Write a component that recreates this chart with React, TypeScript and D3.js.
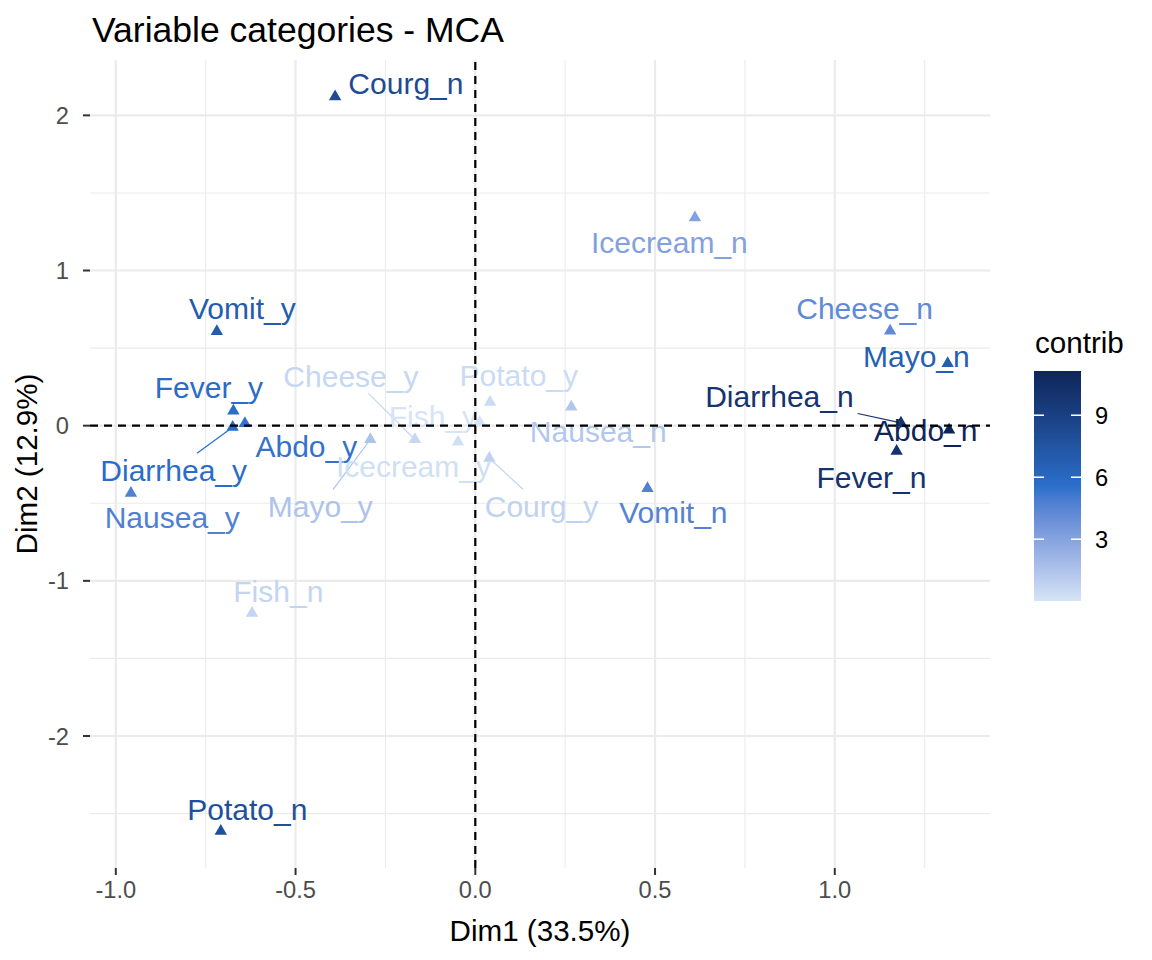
import React, { useMemo } from 'react';
import * as d3 from 'd3';

// MCA variable categories (Dim1 / Dim2 coordinates and contribution)
const categories = [
  'Nausea_n', 'Nausea_y', 'Vomit_n', 'Vomit_y', 'Abdo_n', 'Abdo_y',
  'Fever_n', 'Fever_y', 'Diarrhea_n', 'Diarrhea_y', 'Fish_n', 'Fish_y',
  'Mayo_n', 'Mayo_y', 'Potato_n', 'Potato_y', 'Cheese_n', 'Cheese_y',
  'Icecream_n', 'Icecream_y', 'Courg_n', 'Courg_y',
];
const dim1 = [
  0.267, -0.958, 0.479, -0.719, 1.318, -0.641,
  1.172, -0.673, 1.184, -0.675, -0.621, 0.012,
  1.314, -0.292, -0.708, 0.041, 1.154, -0.168,
  0.611, -0.048, -0.39, 0.039,
];
const dim2 = [
  0.121, -0.435, -0.405, 0.607, -0.028, 0.014,
  -0.165, 0.095, 0.018, -0.01, -1.209, 0.022,
  0.401, -0.089, -2.614, 0.151, 0.61, -0.089,
  1.34, -0.105, 2.12, -0.21,
];
const contrib = [
  1.32, 4.73, 4.63, 6.94, 11.14, 5.42,
  9.98, 5.76, 10.0, 5.68, 0.66, 0.01,
  6.72, 1.49, 7.88, 0.42, 4.22, 0.61,
  3.08, 0.24, 8.2, 0.82,
];
// repelled label positions (data units)
const labelDim1 = [
  0.342, -0.843, 0.551, -0.648, 1.253, -0.47,
  1.102, -0.741, 0.846, -0.839, -0.548, -0.118,
  1.227, -0.431, -0.634, 0.121, 1.083, -0.346,
  0.54, -0.172, -0.193, 0.184,
];
const labelDim2 = [
  -0.039, -0.593, -0.557, 0.757, -0.032, -0.135,
  -0.332, 0.248, 0.187, -0.287, -1.066, 0.058,
  0.445, -0.522, -2.471, 0.322, 0.754, 0.319,
  1.182, -0.264, 2.207, -0.519,
];

const xTicks = [-1.0, -0.5, 0.0, 0.5, 1.0];
const xTickLabels = ['-1.0', '-0.5', '0.0', '0.5', '1.0'];
const yTicks = [-2, -1, 0, 1, 2];
const yTickLabels = ['-2', '-1', '0', '1', '2'];
const legendTicks = [3, 6, 9];
const gradientColors = ['#d5e4f6', '#2b6fcb', '#0f2559'];

const W = 1152;
const H = 960;
const panel = { left: 90, right: 990, top: 60, bottom: 868 };
const FONT = "'Liberation Sans', Arial, Helvetica, sans-serif";
const base = 29.6;
const labelSize = 30;

function expand(ext: number[]) {
  const d = ext[1] - ext[0];
  return [ext[0] - 0.05 * d, ext[1] + 0.05 * d];
}

// R pch 17 filled triangle
function triangle(cx: number, cy: number, s: number) {
  const r = 1.5551 * s, yc = 0.7776 * s, hx = 1.3468 * s;
  return `M${cx},${cy - r}L${cx + hx},${cy + yc}L${cx - hx},${cy + yc}Z`;
}

export default function App() {
  const x = d3.scaleLinear().domain(expand(d3.extent(dim1) as number[])).range([panel.left, panel.right]);
  const y = d3.scaleLinear().domain(expand(d3.extent(dim2) as number[])).range([panel.bottom, panel.top]);

  const cExt = d3.extent(contrib) as number[];
  const color = d3.scaleLinear<string>()
    .domain([cExt[0], (cExt[0] + cExt[1]) / 2, cExt[1]])
    .range(gradientColors)
    .interpolate(d3.interpolateLab);

  const xMinor = xTicks.flatMap(t => [t - 0.25, t + 0.25])
    .filter((v, i, a) => a.indexOf(v) === i && !xTicks.includes(v))
    .filter(v => v > x.domain()[0] && v < x.domain()[1]);
  const yMinor = yTicks.flatMap(t => [t - 0.5, t + 0.5])
    .filter((v, i, a) => a.indexOf(v) === i && !yTicks.includes(v))
    .filter(v => v > y.domain()[0] && v < y.domain()[1]);

  const widths = useMemo(() => {
    const ctx = document.createElement('canvas').getContext('2d');
    if (!ctx) return categories.map(c => c.length * labelSize * 0.55);
    ctx.font = `${labelSize}px ${FONT}`;
    return categories.map(c => ctx.measureText(c).width);
  }, []);

  const legendY = d3.scaleLinear().domain(cExt).range([601, 371]);
  const legendX = 1034, legendW = 47;
  const stops = d3.range(0, 1.0001, 0.05);

  const items = categories.map((name, i) => {
    const px = x(dim1[i]), py = y(dim2[i]);
    const lx = x(labelDim1[i]), ly = y(labelDim2[i]);
    const hw = widths[i] / 2 + 4, hh = 17;
    const dx = px - lx, dy = py - ly;
    const t = Math.min(dx !== 0 ? hw / Math.abs(dx) : Infinity, dy !== 0 ? hh / Math.abs(dy) : Infinity);
    const sx = lx + dx * t, sy = ly + dy * t;
    const segLen = t < 1 ? Math.hypot(px - sx, py - sy) : 0;
    return { name, px, py, lx, ly, sx, sy, seg: segLen > 18, col: color(contrib[i]) };
  });

  return (
    <svg width={W} height={H} style={{ position: 'absolute', left: 0, top: 0, background: '#fff' }} fontFamily={FONT}>
      <defs>
        <linearGradient id="contribGrad" x1="0" y1="1" x2="0" y2="0">
          {stops.map(s => (
            <stop key={s} offset={s} stopColor={color(cExt[0] + s * (cExt[1] - cExt[0]))} />
          ))}
        </linearGradient>
      </defs>

      {/* grid */}
      <g stroke="#ebebeb">
        {xMinor.map(v => <line key={'xm' + v} x1={x(v)} x2={x(v)} y1={panel.top} y2={panel.bottom} strokeWidth={1.1} />)}
        {yMinor.map(v => <line key={'ym' + v} y1={y(v)} y2={y(v)} x1={panel.left} x2={panel.right} strokeWidth={1.1} />)}
        {xTicks.map(v => <line key={'xM' + v} x1={x(v)} x2={x(v)} y1={panel.top} y2={panel.bottom} strokeWidth={2.2} />)}
        {yTicks.map(v => <line key={'yM' + v} y1={y(v)} y2={y(v)} x1={panel.left} x2={panel.right} strokeWidth={2.2} />)}
      </g>

      {/* axis ticks */}
      <g stroke="#333" strokeWidth={2}>
        {xTicks.map(v => <line key={'xt' + v} x1={x(v)} x2={x(v)} y1={panel.bottom} y2={panel.bottom + 7} />)}
        {yTicks.map(v => <line key={'yt' + v} y1={y(v)} y2={y(v)} x1={panel.left - 7} x2={panel.left} />)}
      </g>
      <g fill="#4d4d4d" fontSize={base * 0.8}>
        {xTicks.map((v, i) => (
          <text key={'xl' + v} x={x(v)} y={panel.bottom + 30} textAnchor="middle">{xTickLabels[i]}</text>
        ))}
        {yTicks.map((v, i) => (
          <text key={'yl' + v} x={panel.left - 21} y={y(v)} dy="0.36em" textAnchor="end">{yTickLabels[i]}</text>
        ))}
      </g>

      {/* segments, points, labels */}
      {items.filter(d => d.seg).map(d => (
        <line key={'s' + d.name} x1={d.sx} y1={d.sy} x2={d.px} y2={d.py} stroke={d.col} strokeWidth={1.2} />
      ))}
      {items.map(d => <path key={'p' + d.name} d={triangle(d.px, d.py, 4.6)} fill={d.col} />)}
      {items.map(d => (
        <text key={'t' + d.name} x={d.lx} y={d.ly} dy="0.35em" textAnchor="middle" fontSize={labelSize} fill={d.col}>{d.name}</text>
      ))}

      {/* reference lines */}
      <g stroke="#000" strokeWidth={2.2} strokeDasharray="8,6">
        <line x1={x(0)} x2={x(0)} y1={panel.bottom} y2={panel.top} />
        <line x1={panel.left} x2={panel.right} y1={y(0)} y2={y(0)} />
      </g>

      {/* titles */}
      <text x={92} y={42} fontSize={base * 1.2} fill="#000">Variable categories - MCA</text>
      <text x={(panel.left + panel.right) / 2} y={941} textAnchor="middle" fontSize={base} fill="#000">Dim1 (33.5%)</text>
      <text transform={`translate(37,${(panel.top + panel.bottom) / 2}) rotate(-90)`} textAnchor="middle" fontSize={base} fill="#000">Dim2 (12.9%)</text>

      {/* legend */}
      <text x={1035} y={353} fontSize={base} fill="#000">contrib</text>
      <rect x={legendX} y={371} width={legendW} height={230} fill="url(#contribGrad)" />
      <g stroke="#fff" strokeWidth={1.5}>
        {legendTicks.map(v => (
          <g key={'lt' + v}>
            <line x1={legendX} x2={legendX + 10} y1={legendY(v)} y2={legendY(v)} />
            <line x1={legendX + legendW - 10} x2={legendX + legendW} y1={legendY(v)} y2={legendY(v)} />
          </g>
        ))}
      </g>
      {legendTicks.map(v => (
        <text key={'ll' + v} x={1095} y={legendY(v)} dy="0.36em" fontSize={base * 0.8} fill="#000">{v}</text>
      ))}
    </svg>
  );
}
